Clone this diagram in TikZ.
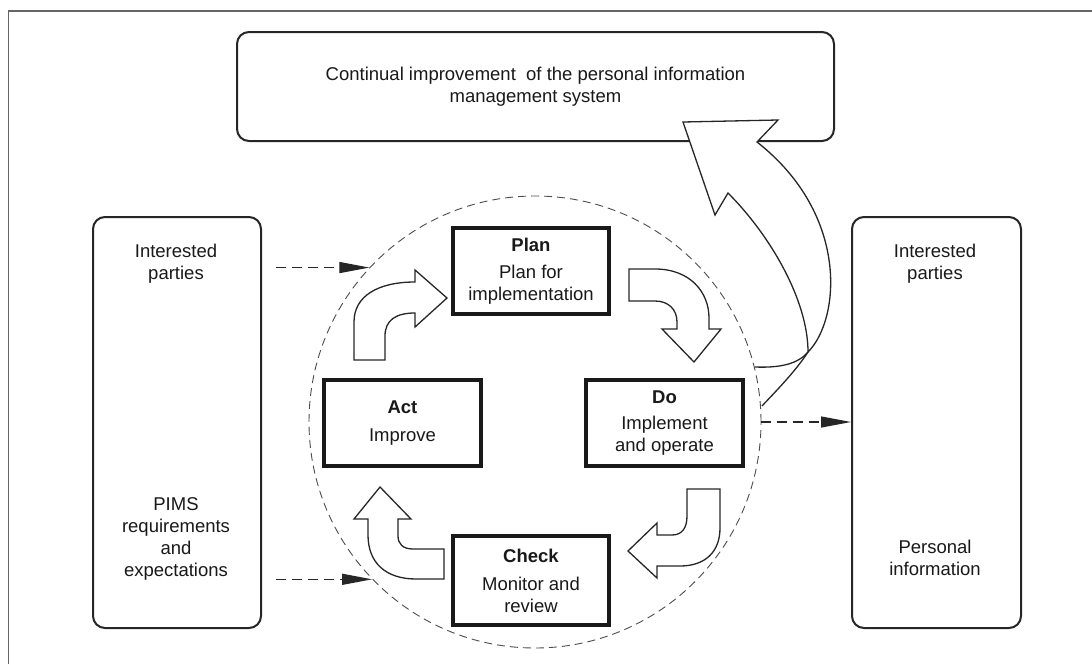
\documentclass[tikz,border=0pt]{standalone}
\usepackage{fontspec}
\setmainfont{Liberation Sans}
\usetikzlibrary{arrows.meta}
\begin{document}
\begin{tikzpicture}[x=1pt,y=-1pt,
  every node/.style={font=\fontsize{18.5}{22}\selectfont, text=black!90},
  roundbox/.style={draw=black!85, line width=2pt, rounded corners=12pt, fill=white, inner sep=0pt},
  pdcabox/.style={draw=black!90, line width=3.5pt, fill=white, inner sep=0pt, align=center},
  blockarrow/.style={draw=black!85, line width=1.3pt, fill=white, line join=miter},
  ribbon/.style={draw=black!85, line width=1.3pt},
  dasharrow/.style={draw=black!85, line width=1.2pt, dash pattern=on 10pt off 6pt,
    -{Triangle[length=30pt,width=11pt]}},
  txt/.style={align=center, inner sep=0pt}
]
\useasboundingbox (0,0) rectangle (1092,664);

% outer frame
\draw[black!60, line width=1.5pt] (8.5,664) -- (8.5,11) -- (1092,11);

% top box
\node[roundbox, minimum width=597pt, minimum height=109pt] (top) at (535.5,86.5) {};
\node[txt] (toptext) at (top.center) {Continual improvement\ \ of the personal information\\management system};

% side boxes
\node[roundbox, minimum width=168pt, minimum height=411pt] (lb) at (177,422.5) {};
\node[txt] (lbtop) at (176,264) {Interested\\parties};
\node[txt] (lbbot) at (176,538.5) {PIMS\\requirements\\and\\expectations};

\node[roundbox, minimum width=169pt, minimum height=411pt] (rb) at (936.5,422.5) {};
\node[txt] (rbtop) at (935,264) {Interested\\parties};
\node[txt] (rbbot) at (935,558) {Personal\\information};

% dashed cycle
\node[draw=black!70, line width=0.9pt, dash pattern=on 8pt off 5pt, circle,
      minimum size=452pt, inner sep=0pt] (loop) at (535,422) {};

% PDCA boxes
\node[pdcabox, minimum width=156pt, minimum height=86pt] (plan) at (531,271)
  {\textbf{Plan}\\[5pt]Plan for\\implementation};
\node[pdcabox, minimum width=157pt, minimum height=86pt] (act) at (402.5,423)
  {\textbf{Act}\\[6pt]Improve};
\node[pdcabox, minimum width=157pt, minimum height=86pt] (do) at (664.5,423)
  {\textbf{Do}\\[4pt]Implement\\and operate};
\node[pdcabox, minimum width=156pt, minimum height=89pt] (check) at (531,580.5)
  {\textbf{Check}\\[6pt]Monitor and\\review};

% inputs and outputs
\draw[dasharrow] ([xshift=14pt]loop.137 -| lb.east) -- (loop.137);
\draw[dasharrow] ([xshift=14pt]loop.224 -| lb.east) -- (loop.224);
\draw[dasharrow] (loop.east) -- (rb.west |- loop.east);

% block arrows of the cycle
% act -> plan
\path[blockarrow] (354,360) -- (354,322) .. controls (354,296) and (378,282) .. (415,282)
  -- (415,270) -- (447,298) -- (415,327) -- (415,313)
  .. controls (396,313) and (385,320) .. (385,336) -- (385,360) -- cycle;
% plan -> do
\path[blockarrow] (629,269) -- (655,269) .. controls (690,269) and (709,292) .. (709,318)
  -- (709,329) -- (721,329) -- (694,362) -- (662,329) -- (677,329) -- (677,322)
  .. controls (677,309) and (668,301) .. (655,301) -- (629,301) -- cycle;
% do -> check
\path[blockarrow] (687,489) -- (720,489) -- (720,528) .. controls (720,552) and (705,566) .. (680,566)
  -- (657,566) -- (657,578) -- (628,551) -- (657,523) -- (657,535) -- (672,535)
  .. controls (682,535) and (687,528) .. (687,516) -- cycle;
% check -> act
\path[blockarrow] (444,549) -- (444,579) -- (416,579) .. controls (386,579) and (368,563) .. (368,535)
  -- (368,519) -- (354,519) -- (380,487) -- (411,519) -- (398,519) -- (398,536)
  .. controls (398,544) and (403,549) .. (413,549) -- cycle;

% continual improvement arrow
\path[blockarrow] (683,122) -- (715,215) -- (728,193)
  .. controls (770,235) and (808,300) .. (808,352)
  .. controls (840,320) and (850,215) .. (757,142) -- (778,120) -- cycle;
\draw[ribbon] (808,352) .. controls (798,364) and (780,368) .. (755,367);
\draw[ribbon] (808,352) .. controls (795,372) and (775,392) .. (762,406);
\end{tikzpicture}
\end{document}
